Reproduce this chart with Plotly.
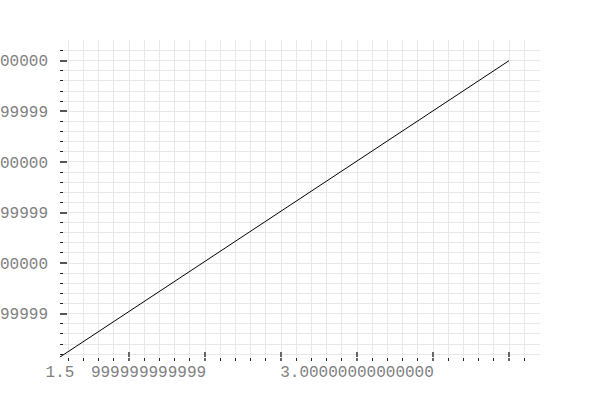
import plotly.graph_objects as go

# line series
line_x = [1.5, 3.7677]
line_y = [0.4144, 1.0]

# y-axis major ticks and their (float-artifact) labels
y_tickvals = [1.0, 0.9, 0.8, 0.7, 0.6, 0.5]
y_ticktext = ["1.0000000000000000", "0.8999999999999999", "0.8000000000000000",
              "0.6999999999999999", "0.6000000000000000", "0.4999999999999999"]

# x-axis visible tick labels
x_label_vals = [1.5, 1.947, 3.0]
x_label_text = ["1.5", "999999999999", "3.00000000000000"]

X_RANGE = [1.5, 3.92424]
Y_RANGE = [0.41443, 1.04091]
X_TICK0, X_DTICK = 3.0, 0.383838
Y_TICK0, Y_DTICK = 1.0, 0.1

FONT = dict(family="Liberation Mono, monospace", size=16, color="#7f7f7f")
GRID = "#e8e8e8"

fig = go.Figure()
fig.add_trace(go.Scatter(x=line_x, y=line_y, mode="lines",
                         line=dict(color="#000000", width=1),
                         showlegend=False, hoverinfo="skip"))
# carrier traces for overlay axes
fig.add_trace(go.Scatter(x=[None], y=[None], xaxis="x2", yaxis="y",
                         showlegend=False, hoverinfo="skip"))
fig.add_trace(go.Scatter(x=[None], y=[None], xaxis="x3", yaxis="y",
                         showlegend=False, hoverinfo="skip"))

fig.update_layout(
    template="none",
    width=600, height=400,
    margin=dict(l=60, r=60, t=40, b=43, pad=0),
    paper_bgcolor="white", plot_bgcolor="white",
    showlegend=False,
    xaxis=dict(
        range=X_RANGE, automargin=False, zeroline=False, showline=False,
        tickmode="linear", tick0=X_TICK0, dtick=X_DTICK,
        ticks="inside", ticklen=5, tickwidth=1.5, tickcolor="#666",
        showticklabels=False,
        showgrid=True, gridcolor=GRID, gridwidth=1,
        minor=dict(tickmode="linear", tick0=X_TICK0, dtick=X_DTICK / 5,
                   ticks="outside", ticklen=3, tickwidth=1, tickcolor="#222",
                   showgrid=True, gridcolor=GRID, gridwidth=1),
    ),
    xaxis2=dict(
        overlaying="x", matches="x", anchor="y", side="bottom",
        automargin=False, zeroline=False, showline=False, showgrid=False,
        tickmode="array", tickvals=x_label_vals, ticktext=x_label_text,
        ticks="", tickfont=FONT, ticklabelstandoff=3,
    ),
    xaxis3=dict(
        overlaying="x", matches="x", anchor="y", side="bottom",
        automargin=False, zeroline=False, showline=False, showgrid=False,
        tickmode="linear", tick0=X_TICK0, dtick=X_DTICK,
        ticks="outside", ticklen=3, tickwidth=1.5, tickcolor="#666",
        showticklabels=False,
    ),
    yaxis=dict(
        range=Y_RANGE, automargin=False, zeroline=False, showline=False,
        tickmode="array", tickvals=y_tickvals, ticktext=y_ticktext,
        ticks="inside", ticklen=7, tickwidth=1.5, tickcolor="#555",
        tickfont=FONT, ticklabelstandoff=11,
        showgrid=True, gridcolor=GRID, gridwidth=1,
        minor=dict(tickmode="linear", tick0=Y_TICK0, dtick=Y_DTICK / 5,
                   ticks="inside", ticklen=3, tickwidth=1, tickcolor="#222",
                   showgrid=True, gridcolor=GRID, gridwidth=1),
    ),
)

fig.write_html("out.html", config={"displayModeBar": False},
               post_script="document.body.style.margin='0px';")
